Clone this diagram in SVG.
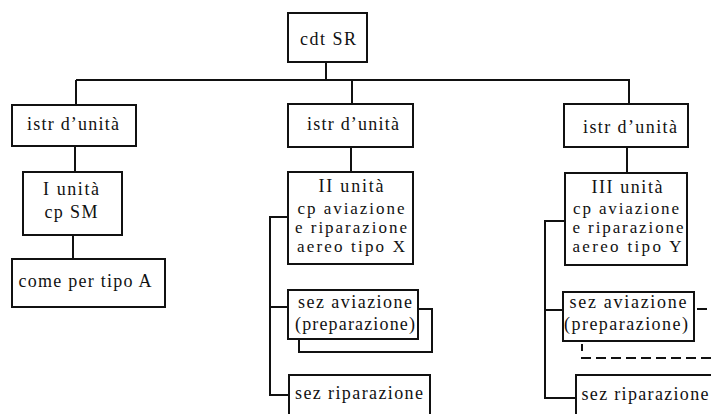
<svg xmlns="http://www.w3.org/2000/svg" width="711" height="414" viewBox="0 0 711 414">
<style>
.box{fill:#fff;stroke:#111;stroke-width:2}
.ln{fill:none;stroke:#111;stroke-width:2}
.dash{fill:none;stroke:#111;stroke-width:2;stroke-dasharray:10 5}
text{font-family:"Liberation Serif","Times New Roman",serif;font-size:18px;fill:#111;text-anchor:middle}
text.s{font-size:17px}
</style>
<rect width="711" height="414" fill="#fff"/>
<g id="connectors">
<path class="ln" d="M326,62V80M76,80H630M76,80V105M352,80V104M629,80V104"/>
<path class="ln" d="M75,146V172M73,235V259"/>
<path class="ln" d="M351,147V172M288,217H270V395H288M270,307H288"/>
<path class="ln" d="M627,147V173M565,221H545V398H576M545,310H563"/>
<path class="ln" d="M299,339V352H432V309H418"/>
<path class="dash" d="M697,309H711"/>
<path class="ln" d="M582,344V351"/>
<path class="dash" d="M581,358H711"/>
</g>
<g id="root"><rect class="box" x="288" y="13" width="79" height="49"/><text x="328" y="45" textLength="56" lengthAdjust="spacing">cdt SR</text></g>
<g id="istr1"><rect class="box" x="12" y="105" width="124" height="41"/><text x="73" y="130" textLength="92" lengthAdjust="spacing">istr d’unità</text></g>
<g id="unita1"><rect class="box" x="23" y="172" width="99" height="63"/><text x="71" y="195" textLength="56" lengthAdjust="spacing">I unità</text><text x="71" y="218" textLength="53" lengthAdjust="spacing">cp SM</text></g>
<g id="tipoA"><rect class="box" x="12" y="259" width="153" height="48"/><text x="85" y="287" textLength="133" lengthAdjust="spacing">come per tipo A</text></g>
<g id="istr2"><rect class="box" x="288" y="104" width="125" height="43"/><text x="353" y="130" textLength="92" lengthAdjust="spacing">istr d’unità</text></g>
<g id="unita2"><rect class="box" x="288" y="172" width="125" height="92"/><text x="351" y="192" textLength="65" lengthAdjust="spacing">II unità</text><text class="s" x="351" y="214" textLength="107" lengthAdjust="spacing">cp aviazione</text><text class="s" x="351" y="233" textLength="112" lengthAdjust="spacing">e riparazione</text><text class="s" x="351" y="252" textLength="108" lengthAdjust="spacing">aereo tipo X</text></g>
<g id="sezav2"><rect class="box" x="288" y="290" width="130" height="49"/><text x="355" y="308" textLength="114" lengthAdjust="spacing">sez aviazione</text><text x="355" y="330" textLength="120" lengthAdjust="spacing">(preparazione)</text></g>
<g id="sezrip2"><path class="box" d="M289,416V375H430V416"/><text x="359" y="399" textLength="128" lengthAdjust="spacing">sez riparazione</text></g>
<g id="istr3"><rect class="box" x="564" y="104" width="124" height="43"/><text x="630" y="133" textLength="94" lengthAdjust="spacing">istr d’unità</text></g>
<g id="unita3"><rect class="box" x="565" y="173" width="122" height="92"/><text x="627" y="193" textLength="71" lengthAdjust="spacing">III unità</text><text class="s" x="626" y="214" textLength="106" lengthAdjust="spacing">cp aviazione</text><text class="s" x="628" y="233" textLength="111" lengthAdjust="spacing">e riparazione</text><text class="s" x="627" y="252" textLength="109" lengthAdjust="spacing">aereo tipo Y</text></g>
<g id="sezav3"><rect class="box" x="563" y="292" width="131" height="49"/><text x="628" y="308" textLength="117" lengthAdjust="spacing">sez aviazione</text><text x="626" y="330" textLength="124" lengthAdjust="spacing">(preparazione)</text></g>
<g id="sezrip3"><path class="box" d="M576,416V375H713"/><text x="645" y="400" textLength="127" lengthAdjust="spacing">sez riparazione</text></g>
</svg>
